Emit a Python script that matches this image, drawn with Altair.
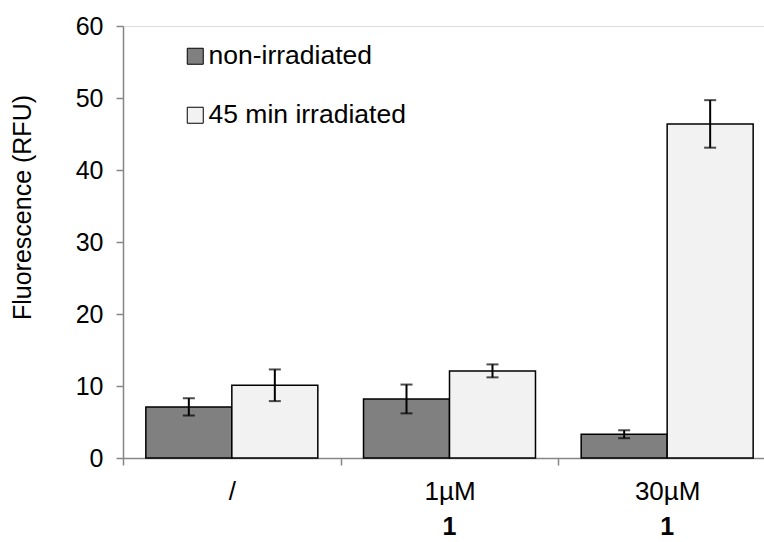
import altair as alt
import pandas as pd

categories = ["/", "1µM", "30µM"]
series = ["non-irradiated", "45 min irradiated"]
non_irr = [7.1, 8.2, 3.3]
non_irr_err = [1.2, 2.0, 0.55]
irr = [10.1, 12.1, 46.4]
irr_err = [2.2, 0.9, 3.3]
compound_labels = ["", "1", "1"]
colors = ["#808080", "#f2f2f2"]
y_ticks = [0, 10, 20, 30, 40, 50, 60]

rows = []
for i, c in enumerate(categories):
    for s, vals, errs in ((series[0], non_irr, non_irr_err), (series[1], irr, irr_err)):
        rows.append(dict(cat=c, series=s, value=vals[i],
                         lo=vals[i] - errs[i], hi=vals[i] + errs[i]))
df = pd.DataFrame(rows)
lab_df = pd.DataFrame({"cat": categories, "lab": compound_labels})

FONT = "Liberation Sans"
AXIS_GRAY = "#868686"

x_enc = alt.X(
    "cat:N",
    sort=categories,
    scale=alt.Scale(domain=categories, range=[0, 653], paddingInner=0, paddingOuter=0),
    axis=alt.Axis(
        title=None, labelAngle=0, tickBand="extent",
        labelFontSize=26, labelColor="black", labelFont=FONT, labelPadding=13, tickSize=7,
        domainColor=AXIS_GRAY, tickColor=AXIS_GRAY, domainWidth=1.5, tickWidth=1.5,
    ),
)
xo_enc = alt.XOffset(
    "series:N", sort=series,
    scale=alt.Scale(domain=series, paddingInner=0, paddingOuter=0.2656),
)
y_scale = alt.Scale(domain=[0, 60], nice=False)

bars = alt.Chart(df).mark_bar(stroke="black", strokeWidth=1.5).encode(
    x=x_enc,
    xOffset=xo_enc,
    y=alt.Y(
        "value:Q", scale=y_scale,
        axis=alt.Axis(
            values=y_ticks, grid=False, title="Fluorescence (RFU)",
            titleFontSize=25, titleFont=FONT, titleFontWeight="normal", titleColor="black",
            titleAngle=270, titleX=-101, titleY=181, titleAlign="center", titleBaseline="middle",
            labelFontSize=25, labelFont=FONT, labelColor="black", labelPadding=13,
            tickSize=7, domainColor=AXIS_GRAY, tickColor=AXIS_GRAY,
            domainWidth=1.5, tickWidth=1.5,
        ),
    ),
    fill=alt.Fill(
        "series:N", scale=alt.Scale(domain=series, range=colors),
        legend=alt.Legend(
            title=None, orient="none", legendX=59, legendY=17, symbolType="square",
            symbolSize=256, symbolStrokeColor="black", symbolStrokeWidth=1,
            labelFontSize=26.5, labelFont=FONT, labelColor="black", rowPadding=32,
            labelOffset=0, padding=0, labelLimit=0,
        ),
    ),
)

rules = alt.Chart(df).mark_rule(color="black", strokeWidth=2).encode(
    x=x_enc, xOffset=xo_enc, y=alt.Y("lo:Q", scale=y_scale), y2="hi:Q"
)
caps_hi = alt.Chart(df).mark_tick(color="black", size=12, thickness=2).encode(
    x=x_enc, xOffset=xo_enc, y=alt.Y("hi:Q", scale=y_scale)
)
caps_lo = alt.Chart(df).mark_tick(color="black", size=12, thickness=2).encode(
    x=x_enc, xOffset=xo_enc, y=alt.Y("lo:Q", scale=y_scale)
)
labels = alt.Chart(lab_df).mark_text(
    fontSize=25, fontWeight="bold", font=FONT, color="black", baseline="top", dy=57
).encode(x=x_enc, y=alt.datum(0), text="lab:N")

chart = (
    alt.layer(bars, rules, caps_hi, caps_lo, labels)
    .properties(
        width=641, height=432,
        autosize=alt.AutoSizeParams(type="none"),
        padding={"left": 123, "top": 26, "right": 0, "bottom": 84},
    )
    .configure_view(stroke=None)
    .configure(font=FONT)
)

chart.save("out.html", embed_options={"renderer": "svg", "actions": False})
